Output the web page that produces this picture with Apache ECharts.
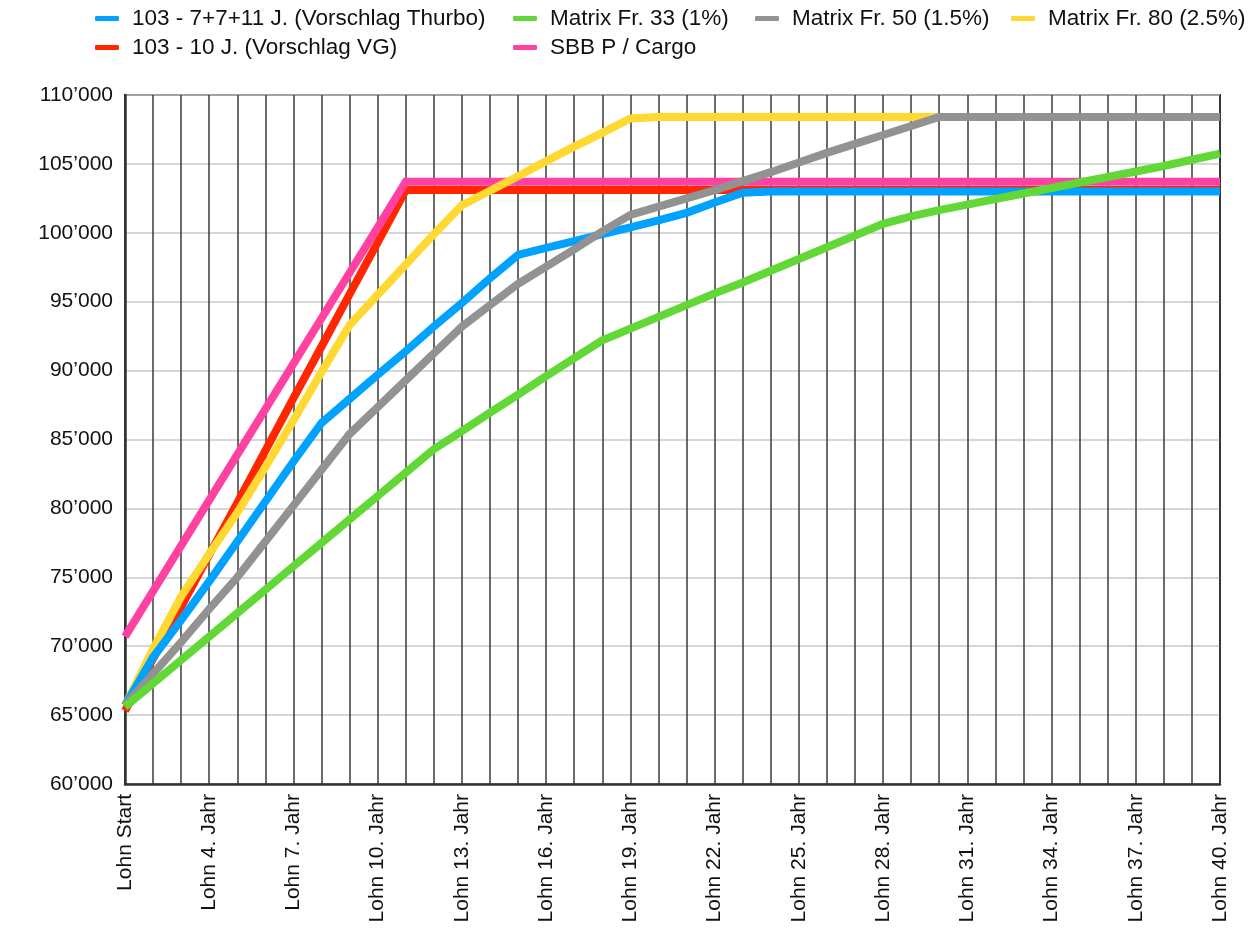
<!DOCTYPE html>
<html>
<head>
<meta charset="utf-8">
<script src="https://cdn.jsdelivr.net/npm/echarts@6/dist/echarts.min.js"></script>
<style>
html,body{margin:0;padding:0;background:#fff;}
#c{width:1257px;height:934px;}
</style>
</head>
<body>
<div id="c"></div>
<script>
var categories = ["Lohn Start","Lohn 2. Jahr","Lohn 3. Jahr","Lohn 4. Jahr","Lohn 5. Jahr","Lohn 6. Jahr","Lohn 7. Jahr","Lohn 8. Jahr","Lohn 9. Jahr","Lohn 10. Jahr",
"Lohn 11. Jahr","Lohn 12. Jahr","Lohn 13. Jahr","Lohn 14. Jahr","Lohn 15. Jahr","Lohn 16. Jahr","Lohn 17. Jahr","Lohn 18. Jahr","Lohn 19. Jahr","Lohn 20. Jahr",
"Lohn 21. Jahr","Lohn 22. Jahr","Lohn 23. Jahr","Lohn 24. Jahr","Lohn 25. Jahr","Lohn 26. Jahr","Lohn 27. Jahr","Lohn 28. Jahr","Lohn 29. Jahr","Lohn 30. Jahr",
"Lohn 31. Jahr","Lohn 32. Jahr","Lohn 33. Jahr","Lohn 34. Jahr","Lohn 35. Jahr","Lohn 36. Jahr","Lohn 37. Jahr","Lohn 38. Jahr","Lohn 39. Jahr","Lohn 40. Jahr"];

var thurbo = [65700,69200,71900,74700,77600,80500,83400,86200,87950,89700,
91400,93200,94900,96700,98400,98900,99400,99900,100400,100900,
101450,102200,102900,103000,103000,103000,103000,103000,103000,103000,
103000,103000,103000,103000,103000,103000,103000,103000,103000,103000];

var vg = [65300,69100,72850,76650,80400,84200,88000,91750,95550,99300,
103100,103100,103100,103100,103100,103100,103100,103100,103100,103100,
103100,103100,103100,103100,103100,103100,103100,103100,103100,103100,
103100,103100,103100,103100,103100,103100,103100,103100,103100,103100];

var matrix33 = [65600,67300,69000,70700,72400,74100,75800,77500,79200,80900,
82600,84300,85600,86950,88250,89600,90900,92200,93050,93900,
94750,95600,96400,97250,98100,98950,99800,100650,101200,101650,
102050,102450,102850,103250,103650,104050,104450,104850,105300,105750];

var matrix50 = [65700,68000,70300,72700,75000,77600,80200,82800,85400,87350,
89300,91250,93200,94750,96300,97550,98800,100100,101300,101900,
102500,103100,103750,104400,105100,105800,106450,107100,107750,108400,
108400,108400,108400,108400,108400,108400,108400,108400,108400,108400];

var matrix80 = [65700,69800,73600,76700,79700,83000,86400,89900,93300,95500,
97700,99900,102000,103050,104100,105200,106250,107250,108300,108400,
108400,108400,108400,108400,108400,108400,108400,108400,108400,108400,
108400,108400,108400,108400,108400,108400,108400,108400,108400,108400];

var sbb = [70700,74000,77300,80600,83900,87200,90500,93800,97100,100400,
103700,103700,103700,103700,103700,103700,103700,103700,103700,103700,
103700,103700,103700,103700,103700,103700,103700,103700,103700,103700,
103700,103700,103700,103700,103700,103700,103700,103700,103700,103700];

var names = {
  thurbo: "103 - 7+7+11 J. (Vorschlag Thurbo)",
  vg: "103 - 10 J. (Vorschlag VG)",
  m33: "Matrix Fr. 33 (1%)",
  m50: "Matrix Fr. 50 (1.5%)",
  m80: "Matrix Fr. 80 (2.5%)",
  sbb: "SBB P / Cargo"
};
var colors = {thurbo:"#00A2FF", vg:"#FF2600", m33:"#61D836", m50:"#929292", m80:"#FFD932", sbb:"#FF42A1"};

var FONT = "'Liberation Sans', Arial, Helvetica, sans-serif";

function mkLegend(name, left, top) {
  return {
    data: [name], left: left, top: top, orient: 'horizontal',
    icon: 'roundRect', itemWidth: 24, itemHeight: 5, padding: 0,
    selectedMode: false,
    textStyle: {fontFamily: FONT, fontSize: 22.5, color: '#111', padding: [0,0,0,8]}
  };
}

function mkSeries(key, data) {
  return {
    name: names[key], type: 'line', data: data, symbol: 'none',
    color: colors[key],
    lineStyle: {width: 8, color: colors[key], cap: 'butt', join: 'miter'},
    emphasis: {disabled: true}
  };
}

var chart = echarts.init(document.getElementById('c'), null, {renderer: 'canvas'});
chart.setOption({
  animation: false,
  backgroundColor: '#fff',
  legend: [
    mkLegend(names.thurbo, 95, 7),
    mkLegend(names.m33, 513, 7),
    mkLegend(names.m50, 755, 7),
    mkLegend(names.m80, 1011, 7),
    mkLegend(names.vg, 95, 36),
    mkLegend(names.sbb, 513, 36)
  ],
  grid: {left: 125, right: 37, top: 95, bottom: 150, containLabel: false,
         show: true, borderColor: '#333', borderWidth: 2, backgroundColor: '#fff'},
  xAxis: {
    type: 'category', data: categories, boundaryGap: false,
    axisLine: {show: true, lineStyle: {color: '#333', width: 2.5}},
    axisTick: {show: false},
    axisLabel: {interval: 2, rotate: 90, margin: 10, fontFamily: FONT, fontSize: 21, color: '#111'},
    splitLine: {show: true, interval: 0, lineStyle: {color: '#3a3a3a', width: 1.5}}
  },
  yAxis: {
    type: 'value', min: 60000, max: 110000, interval: 5000,
    axisLine: {show: true, lineStyle: {color: '#333', width: 2.5}},
    axisTick: {show: false},
    axisLabel: {margin: 12, fontFamily: FONT, fontSize: 21, color: '#111',
      formatter: function (v) { return String(v).replace(/\B(?=(\d{3})+(?!\d))/g, "\u2019"); }},
    splitLine: {show: true, lineStyle: {color: '#c8c8c8', width: 1.5}}
  },
  series: [
    mkSeries('vg', vg),
    mkSeries('sbb', sbb),
    mkSeries('m80', matrix80),
    mkSeries('thurbo', thurbo),
    mkSeries('m50', matrix50),
    mkSeries('m33', matrix33)
  ]
});
</script>
</body>
</html>
